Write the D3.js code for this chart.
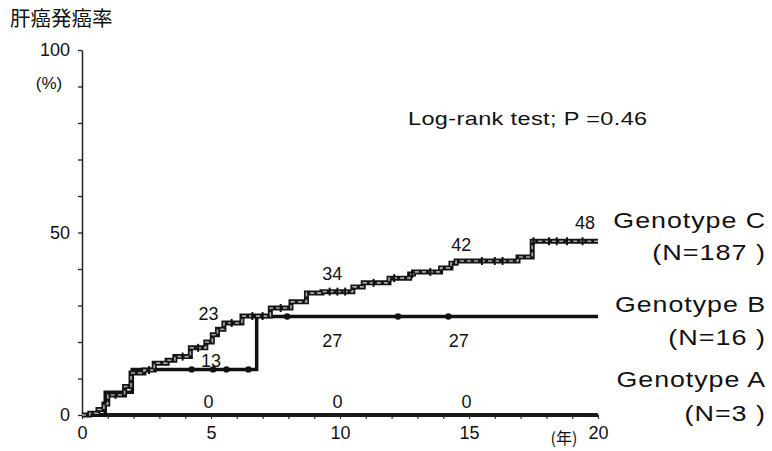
<!DOCTYPE html>
<html>
<head>
<meta charset="utf-8">
<script src="https://cdn.jsdelivr.net/npm/d3@7"></script>
<style>
  body { margin: 0; background: #fff; }
  svg text { font-family: "Liberation Sans", Arial, sans-serif; fill: #111; }
</style>
</head>
<body>
<div id="chart"></div>
<script>
// ---- data ----
const cTimes = [0, 0.3, 0.62, 0.85, 1.0, 1.65, 1.9, 2.4, 2.8, 3.3, 3.6, 4.2, 4.8, 5.05, 5.25, 5.5, 6.2, 7.3, 8.1, 8.7, 9.3, 10.5, 10.9, 11.9, 12.7, 12.85, 13.9, 14.3, 14.5, 16.9, 17.45, 20];
const cPct   = [0, 0.5, 1.5, 3.0, 5.5, 7.8, 11.5, 12.3, 14.2, 15.0, 16.0, 18.4, 20.0, 22.0, 23.5, 25.2, 27.1, 29.3, 31.0, 33.4, 33.8, 35.1, 36.2, 37.5, 38.6, 39.2, 40.3, 41.6, 42.2, 43.3, 47.6, 47.6];
const bTimes = [0, 0.9, 1.95, 6.77, 20];
const bPct   = [0, 6.25, 12.5, 27, 27];
const aTimes = [0, 20];
const aPct   = [0, 0];

const cCensor = [1.3, 2.6, 3.9, 4.5, 5.8, 6.6, 7.0, 7.7, 9.6, 9.9, 10.2, 11.3, 12.1, 12.8, 13.5, 15.5, 16.0, 16.3, 17.5, 18.1, 18.4, 18.8, 19.4];
const bCensor = [4.25, 5.08, 5.6, 6.45, 7.95, 12.25, 14.2];

// numbers printed on the curves
const cLabelYears = [4.9, 9.7, 14.7, 19.5];
const cLabels     = [23, 34, 42, 48];
const bLabelYears = [5.0, 9.7, 14.6];
const bLabels     = [13, 27, 27];
const bLabelLevel = [12.5, 27, 27];
const aLabelYears = [4.9, 9.9, 14.9];
const aLabels     = [0, 0, 0];

const groupNames = ['Genotype C', 'Genotype B', 'Genotype A'];
const groupNs    = ['(N=187 )', '(N=16 )', '(N=3 )'];

const xTicks = d3.range(0, 21, 1);
const xLabelTicks = [0, 5, 10, 15, 20];
const yTicks = d3.range(0, 101, 10);
const yLabelTicks = [0, 50, 100];

// ---- layout ----
const w = 772;
const h = 451;
const x0 = 82, x1 = 598;
const y0 = 415, y1 = 50;

const svg = d3.select('#chart').append('svg')
    .attr('width', w)
    .attr('height', h);

const xScale = d3.scaleLinear().domain([0, 20]).range([x0, x1]);
const yScale = d3.scaleLinear().domain([0, 100]).range([y0, y1]);

// widen latin text like the scanned original: some letter spacing, rest by glyph stretch
function stretch(sel, k, ls) {
    sel.each(function () {
        const len = this.getComputedTextLength();
        d3.select(this)
            .style('letter-spacing', ls + 'px')
            .attr('textLength', len * k)
            .attr('lengthAdjust', 'spacingAndGlyphs');
    });
}

// y axis
const yAxis = d3.axisLeft(yScale)
    .tickValues(yTicks)
    .tickSize(4)
    .tickSizeOuter(0)
    .tickPadding(8)
    .tickFormat(d => yLabelTicks.includes(d) ? d : '');
const gy = svg.append('g')
    .attr('transform', `translate(${x0},0)`)
    .call(yAxis);
gy.select('.domain').attr('stroke', '#222').attr('stroke-width', 1.5);
gy.selectAll('.tick line').attr('stroke', '#222').attr('stroke-width', 1.3);
gy.selectAll('.tick text').attr('font-size', 18).attr('fill', '#111');

// x axis
const xAxis = d3.axisBottom(xScale)
    .tickValues(xTicks)
    .tickSize(4)
    .tickSizeOuter(0)
    .tickPadding(7)
    .tickFormat(d => xLabelTicks.includes(d) ? d : '');
const gx = svg.append('g')
    .attr('transform', `translate(0,${y0})`)
    .call(xAxis);
gx.select('.domain').attr('stroke', '#222').attr('stroke-width', 1.5);
gx.selectAll('.tick line').attr('stroke', '#333').attr('stroke-width', 1.2);
gx.selectAll('.tick text').attr('font-size', 18).attr('fill', '#111');

// axis captions
svg.append('text')
    .attr('x', 10).attr('y', 26)
    .attr('font-size', 20.5)
    .style('font-family', '"Noto Sans CJK JP", sans-serif')
    .text('肝癌発癌率');
svg.append('text')
    .attr('x', 49).attr('y', 89)
    .attr('text-anchor', 'middle')
    .attr('font-size', 17)
    .text('(%)');
svg.append('text')
    .attr('x', 564).attr('y', 444)
    .attr('text-anchor', 'middle')
    .attr('font-size', 16)
    .style('font-family', '"Noto Sans CJK JP", sans-serif')
    .text('(年)');

// curves
const line = d3.line()
    .x(d => xScale(d[0]))
    .y(d => yScale(d[1]))
    .curve(d3.curveStepAfter);

// Genotype A: flat at 0
svg.append('path')
    .datum(d3.zip(aTimes, aPct))
    .attr('d', line)
    .attr('fill', 'none')
    .attr('stroke', '#1a1a1a')
    .attr('stroke-width', 4);

// Genotype B
svg.append('path')
    .datum(d3.zip(bTimes, bPct))
    .attr('d', line)
    .attr('fill', 'none')
    .attr('stroke', '#111')
    .attr('stroke-width', 3.5);

const bStep = t => bPct[d3.bisectRight(bTimes, t) - 1];
svg.selectAll('circle.bcens')
    .data(bCensor)
    .enter()
    .append('circle')
    .attr('class', 'bcens')
    .attr('cx', d => xScale(d))
    .attr('cy', d => yScale(bStep(d)))
    .attr('r', 3.2)
    .attr('fill', '#111');

// Genotype C: thick dark line with grey hatched core
const cData = d3.zip(cTimes, cPct);
svg.append('path')
    .datum(cData)
    .attr('d', line)
    .attr('fill', 'none')
    .attr('stroke', '#151515')
    .attr('stroke-width', 5);
svg.append('path')
    .datum(cData)
    .attr('d', line)
    .attr('fill', 'none')
    .attr('stroke', '#a8a8a8')
    .attr('stroke-width', 1.6)
    .attr('stroke-dasharray', '4 3');

const cStep = t => cPct[d3.bisectRight(cTimes, t) - 1];
svg.selectAll('line.ccens')
    .data(cCensor)
    .enter()
    .append('line')
    .attr('class', 'ccens')
    .attr('x1', d => xScale(d)).attr('x2', d => xScale(d))
    .attr('y1', d => yScale(cStep(d)) - 4)
    .attr('y2', d => yScale(cStep(d)) + 4)
    .attr('stroke', '#111')
    .attr('stroke-width', 2);

// numbers on the curves
svg.selectAll('text.clab')
    .data(cLabels)
    .enter()
    .append('text')
    .attr('class', 'clab')
    .attr('x', (d, i) => xScale(cLabelYears[i]))
    .attr('y', d => yScale(d) - 11)
    .attr('text-anchor', 'middle')
    .attr('font-size', 18)
    .text(d => d);

svg.selectAll('text.blab')
    .data(bLabels)
    .enter()
    .append('text')
    .attr('class', 'blab')
    .attr('x', (d, i) => xScale(bLabelYears[i]))
    .attr('y', (d, i) => i === 0 ? yScale(bLabelLevel[i]) - 2 : yScale(bLabelLevel[i]) + 31)
    .attr('text-anchor', 'middle')
    .attr('font-size', 18)
    .text(d => d);

svg.selectAll('text.alab')
    .data(aLabels)
    .enter()
    .append('text')
    .attr('class', 'alab')
    .attr('x', (d, i) => xScale(aLabelYears[i]))
    .attr('y', yScale(0) - 7)
    .attr('text-anchor', 'middle')
    .attr('font-size', 18)
    .text(d => d);

// log-rank annotation
svg.append('text')
    .attr('x', 408).attr('y', 125)
    .attr('font-size', 19)
    .text('Log-rank test; P =0.46')
    .call(stretch, 1.28, 0.3);

// group legend on the right
const nameBase = [228, 312, 387];
const nBase = [260, 345, 421];
svg.selectAll('text.gname')
    .data(groupNames)
    .enter()
    .append('text')
    .attr('class', 'gname')
    .attr('x', 766)
    .attr('y', (d, i) => nameBase[i])
    .attr('text-anchor', 'end')
    .attr('font-size', 22)
    .text(d => d)
    .call(stretch, 1.3, 0.8);

svg.selectAll('text.gn')
    .data(groupNs)
    .enter()
    .append('text')
    .attr('class', 'gn')
    .attr('x', 766)
    .attr('y', (d, i) => nBase[i])
    .attr('text-anchor', 'end')
    .attr('font-size', 22)
    .text(d => d)
    .call(stretch, 1.32, 0.8);
</script>
</body>
</html>
